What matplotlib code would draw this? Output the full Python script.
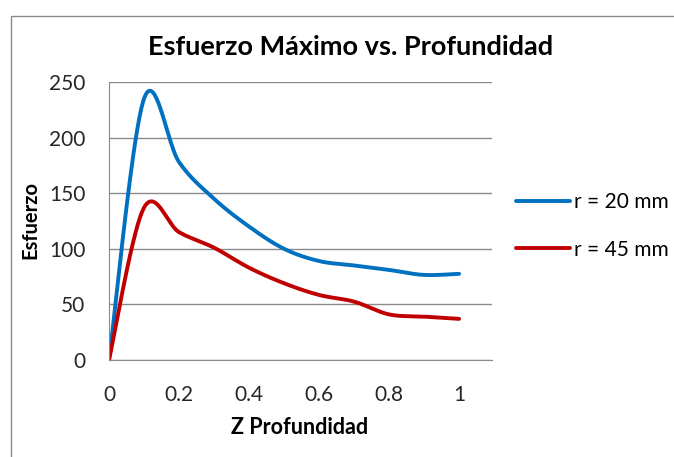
import numpy as np
import matplotlib
matplotlib.use("Agg")
import matplotlib.pyplot as plt
from matplotlib.patches import Rectangle

plt.rcParams['font.family'] = ['Lato', 'DejaVu Sans']

z = [0, 0.1, 0.2, 0.3, 0.4, 0.5, 0.6, 0.7, 0.8, 0.9, 1.0]
r20 = [0, 235, 178, 145, 120, 100, 89, 85, 81, 76.5, 77.5]
r45 = [0, 137, 115, 101, 83, 69, 58.5, 52.5, 41, 39, 37]
labels = ["r = 20 mm", "r = 45 mm"]
colors = ["#0070C0", "#C00000"]


def smooth(xs, ys, n=40):
    # excel-style smoothed line: cubic bezier through the points
    p = np.column_stack([xs, ys]).astype(float)
    out = [p[0]]
    t = np.linspace(0, 1, n)[1:, None]
    for i in range(len(p) - 1):
        p0 = p[i - 1] if i > 0 else p[i]
        p3 = p[i + 2] if i + 2 < len(p) else p[i + 1]
        c1 = p[i] + (p[i + 1] - p0) / 6
        c2 = p[i + 1] - (p3 - p[i]) / 6
        seg = ((1 - t) ** 3 * p[i] + 3 * (1 - t) ** 2 * t * c1
               + 3 * (1 - t) * t ** 2 * c2 + t ** 3 * p[i + 1])
        out.extend(seg)
    out = np.array(out)
    return out[:, 0], out[:, 1]


W, H = 674, 457
fig = plt.figure(figsize=(W / 100, H / 100), dpi=100)
fig.patches.append(Rectangle((11 / W, -0.1), 1.2, 1 - 16 / H + 0.1,
                             transform=fig.transFigure, fill=False,
                             edgecolor="#8a8a8a", lw=1.0))
ax = fig.add_axes([109 / W, 1 - 360 / H, (492 - 109) / W, (360 - 82) / H])

for ys, lab, c in zip([r20, r45], labels, colors):
    sx, sy = smooth(z, ys)
    ax.plot(sx, sy, color=c, lw=2.8, label=lab, solid_capstyle="round")

ax.set_xlim(0, 1.094)
ax.set_ylim(0, 250)
ax.set_xticks([0, 0.2, 0.4, 0.6, 0.8, 1.0])
ax.set_xticklabels(["0", "0.2", "0.4", "0.6", "0.8", "1"])
ax.set_yticks([0, 50, 100, 150, 200, 250])
ax.yaxis.grid(True, color="#8a8a8a", lw=1.0)
ax.set_axisbelow(True)
for s in ["top", "right"]:
    ax.spines[s].set_visible(False)
for s in ["left", "bottom"]:
    ax.spines[s].set_color("#8a8a8a")
ax.tick_params(length=0, labelsize=15, colors="#262626")
ax.tick_params(axis="y", pad=17)
ax.tick_params(axis="x", pad=18)

fig.text(351 / W, 1 - 47 / H, "Esfuerzo Máximo vs. Profundidad", fontsize=19.5,
         fontweight="bold", ha="center", va="center")
fig.text(300 / W, 1 - 428 / H, "Z Profundidad", fontsize=15.5,
         fontweight="bold", ha="center", va="center")
fig.text(30.5 / W, 1 - 220 / H, "Esfuerzo", fontsize=14.5, fontweight="bold",
         rotation=90, ha="center", va="center")

ax.legend(loc="center left", bbox_to_anchor=((516 - 109) / 383, 0.482),
          frameon=False, fontsize=15, handlelength=2.6, handletextpad=0.2,
          labelspacing=1.3, borderpad=0, borderaxespad=0)

fig.savefig("out.png", dpi=100)
